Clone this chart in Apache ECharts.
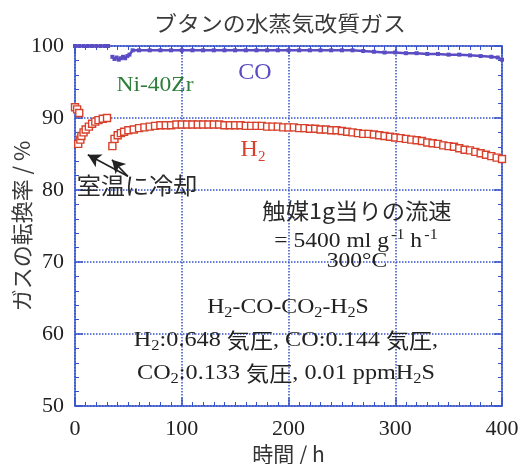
<!DOCTYPE html>
<html>
<head>
<meta charset="utf-8">
<script src="https://cdn.jsdelivr.net/npm/echarts@6/dist/echarts.min.js"></script>
<style>html,body{margin:0;padding:0;background:#fff}#c{width:520px;height:464px}</style>
</head>
<body>
<div id="c"></div>
<script>
// ---- data ----
var xTicks = [0, 100, 200, 300, 400];
var yTicks = [50, 60, 70, 80, 90, 100];

var coTime  = [0, 4, 8, 12, 16, 20, 24, 28, 31, 33, 35, 37, 39, 41, 43, 45, 47, 49, 51, 54, 60, 70, 80, 90, 100, 110, 120, 130, 140, 150, 160, 170, 180, 190, 200, 210, 220, 230, 240, 250, 260, 270, 280, 290, 300, 310, 320, 330, 340, 350, 360, 370, 380, 390, 396, 400];
var coValue = [100, 100, 100, 100, 100, 100, 100, 100, 100, null, 98.5, 98.2, 98.4, 98.1, 98.3, 98.5, 98.3, 98.6, 98.8, 99.4, 99.4, 99.4, 99.4, 99.4, 99.4, 99.4, 99.4, 99.4, 99.4, 99.4, 99.4, 99.4, 99.4, 99.4, 99.4, 99.4, 99.4, 99.4, 99.4, 99.4, 99.4, 99.3, 99.2, 99.1, 99.1, 99.0, 99.0, 98.9, 98.9, 98.8, 98.8, 98.7, 98.6, 98.5, 98.4, 98.1];

var h2Time  = [0, 2, 4, 3, 5, 6, 8, 10, 13, 16, 19, 22, 26, 30,
  35, 37, 40, 43, 46, 50, 55, 60, 65, 70, 75, 80, 85, 90, 95, 100, 105, 110, 115, 120, 125, 130, 135, 140, 145, 150, 155, 160, 165, 170, 175, 180, 185, 190, 195, 200, 205, 210, 215, 220, 225, 230, 235, 240, 245, 250, 255, 260, 265, 270, 275, 280, 285, 290, 295, 300, 305, 310, 315, 320, 325, 330, 335, 340, 345, 350, 355, 360, 365, 370, 375, 380, 385, 390, 395, 400];
var h2Value = [91.5, 91.2, 90.7, 86.4, 87.0, 87.5, 88.0, 88.4, 88.8, 89.2, 89.5, 89.7, 89.9, 90.0,
  86.1, 87.1, 87.6, 87.9, 88.1, 88.3, 88.4, 88.6, 88.7, 88.8, 88.9, 89.0, 89.0, 89.0, 89.1, 89.1, 89.1, 89.1, 89.1, 89.1, 89.1, 89.1, 89.1, 89.0, 89.0, 89.0, 89.0, 88.9, 88.9, 88.9, 88.9, 88.8, 88.8, 88.8, 88.7, 88.7, 88.7, 88.6, 88.6, 88.5, 88.5, 88.4, 88.4, 88.3, 88.3, 88.2, 88.1, 88.0, 87.9, 87.8, 87.8, 87.7, 87.6, 87.5, 87.4, 87.3, 87.2, 87.1, 87.0, 86.9, 86.8, 86.6, 86.5, 86.4, 86.2, 86.1, 86.0, 85.8, 85.6, 85.5, 85.3, 85.1, 84.9, 84.7, 84.5, 84.3];

// arrows: tail -> head, in data coordinates
var arrowTail = [49.5, 81.9];
var arrowHeads = [[12, 84.9], [34.6, 84.2]];

// ---- chart ----
var BLUE = '#3452c9';
var RED = '#d8402c';
var PURPLE = '#5a4cc2';
var GREEN = '#2f7d3a';
var SERIF = '"Liberation Serif","Noto Sans CJK JP",serif';
var JP = '"Noto Sans CJK JP",sans-serif';

function pairs(t, v) { return t.map(function (x, i) { return [x, v[i]]; }); }

var chart = echarts.init(document.getElementById('c'), null, {renderer: 'canvas'});

var baseX = {
  type: 'value', min: xTicks[0], max: xTicks[xTicks.length - 1], interval: 100,
  axisLine: {show: true, onZero: false, lineStyle: {color: BLUE, width: 1.5}},
  axisTick: {show: true, inside: true, length: 8, lineStyle: {color: BLUE, width: 1.5}},
  minorTick: {show: true, splitNumber: 10, length: 4, lineStyle: {color: BLUE, width: 1}},
  splitLine: {show: false}
};
var baseY = {
  type: 'value', min: yTicks[0], max: yTicks[yTicks.length - 1], interval: 10,
  axisLine: {show: true, onZero: false, lineStyle: {color: BLUE, width: 1.5}},
  axisTick: {show: true, inside: true, length: 8, lineStyle: {color: BLUE, width: 1.5}},
  minorTick: {show: true, splitNumber: 5, length: 4, lineStyle: {color: BLUE, width: 1}},
  splitLine: {show: false}
};

function txt(x, y, text, font, fill, sx) {
  return {type: 'text', x: x, y: y, z: 10, scaleX: sx || 1,
    style: {text: text, font: font, fill: fill, align: 'center', verticalAlign: 'middle'}};
}
function rtxt(x, y, text, rich, sx) {
  return {type: 'text', x: x, y: y, z: 10, scaleX: sx || 1,
    style: {text: text, align: 'center', verticalAlign: 'middle', rich: rich}};
}
var formulaRich = {
  a: {fontFamily: SERIF, fontSize: 22, fill: '#222', lineHeight: 26},
  j: {fontFamily: JP, fontSize: 21, fill: '#222', lineHeight: 26},
  s: {fontFamily: SERIF, fontSize: 15, fill: '#222', padding: [12, 0, 0, 0]}
};

var option = {
  backgroundColor: '#fff',
  animation: false,
  grid: {left: 75, right: 18, top: 46, bottom: 58, containLabel: false, outerBoundsMode: 'none'},
  xAxis: [
    Object.assign({}, baseX, {
      position: 'bottom',
      name: '時間 / h', nameLocation: 'middle', nameGap: 38, nameMoveOverlap: false,
      nameTextStyle: {fontFamily: JP, fontSize: 21, color: '#333', fontWeight: 'normal'},
      axisLabel: {show: true, margin: 12, fontFamily: SERIF, fontSize: 22, color: '#222'},
      splitLine: {show: true, lineStyle: {color: BLUE, type: 'dotted', width: 1.5}}
    }),
    Object.assign({}, baseX, {position: 'top', axisLabel: {show: false}})
  ],
  yAxis: [
    Object.assign({}, baseY, {
      position: 'left',
      name: 'ガスの転換率 / %', nameLocation: 'middle', nameGap: 42, nameRotate: 90, nameMoveOverlap: false,
      nameTextStyle: {fontFamily: JP, fontSize: 22, color: '#3a3a3a'},
      axisLabel: {show: true, margin: 11, fontFamily: SERIF, fontSize: 22, color: '#222'},
      splitLine: {show: true, lineStyle: {color: BLUE, type: 'dotted', width: 1.5}}
    }),
    Object.assign({}, baseY, {position: 'right', axisLabel: {show: false}})
  ],
  series: [
    {
      name: 'H2', type: 'scatter', xAxisIndex: 0, yAxisIndex: 0,
      data: pairs(h2Time, h2Value),
      symbol: 'rect', symbolSize: 7,
      itemStyle: {color: '#fff', borderColor: RED, borderWidth: 1.4, opacity: 1},
      z: 3,
      markLine: {
        silent: true, animation: false,
        symbol: ['none', 'arrow'], symbolSize: [11, 13],
        label: {show: false},
        lineStyle: {color: '#222', width: 1.7, type: 'solid'},
        data: arrowHeads.map(function (h) {
          return [{coord: arrowTail}, {coord: h}];
        })
      }
    },
    {
      name: 'CO', type: 'line', xAxisIndex: 0, yAxisIndex: 0,
      data: pairs(coTime, coValue), connectNulls: false,
      symbol: 'rect', symbolSize: 4, showSymbol: true, clip: false,
      lineStyle: {color: PURPLE, width: 2.5},
      itemStyle: {color: PURPLE},
      z: 4
    }
  ],
  graphic: [
    txt(280, 23, 'ブタンの水蒸気改質ガス', '21px ' + JP, '#3a3a3a', 1.09),
    txt(155, 85, 'Ni-40Zr', '22px ' + SERIF, GREEN, 1.07),
    txt(255, 73, 'CO', '24px ' + SERIF, PURPLE),
    rtxt(253, 150, '{a|H}{s|2}', {
      a: {fontFamily: SERIF, fontSize: 24, fill: RED, lineHeight: 28},
      s: {fontFamily: SERIF, fontSize: 15, fill: RED, padding: [14, 0, 0, 0]}
    }),
    txt(137, 185, '室温に冷却', '23px ' + JP, '#2a2a2a', 1.05),
    txt(357, 211, '触媒1g当りの流速', '22px ' + JP, '#2a2a2a', 1.06),
    rtxt(356, 241, '{a|= 5400 ml g}{p|-1}{a| h}{p|-1}', {
      a: {fontFamily: SERIF, fontSize: 22, fill: '#222', lineHeight: 26},
      p: {fontFamily: SERIF, fontSize: 15, fill: '#222', padding: [0, 0, 12, 2]}
    }, 1.07),
    txt(357, 261, '300°C', '22px ' + SERIF, '#222', 1.07),
    rtxt(288, 307, '{a|H}{s|2}{a|-CO-CO}{s|2}{a|-H}{s|2}{a|S}', formulaRich, 1.08),
    rtxt(286, 340, '{a|H}{s|2}{a|:0.648 }{j|気圧}{a|, CO:0.144 }{j|気圧}{a|,}', formulaRich, 1.1),
    rtxt(286, 373, '{a|CO}{s|2}{a|:0.133 }{j|気圧}{a|, 0.01 ppmH}{s|2}{a|S}', formulaRich, 1.1)
  ]
};
chart.setOption(option);
</script>
</body>
</html>
